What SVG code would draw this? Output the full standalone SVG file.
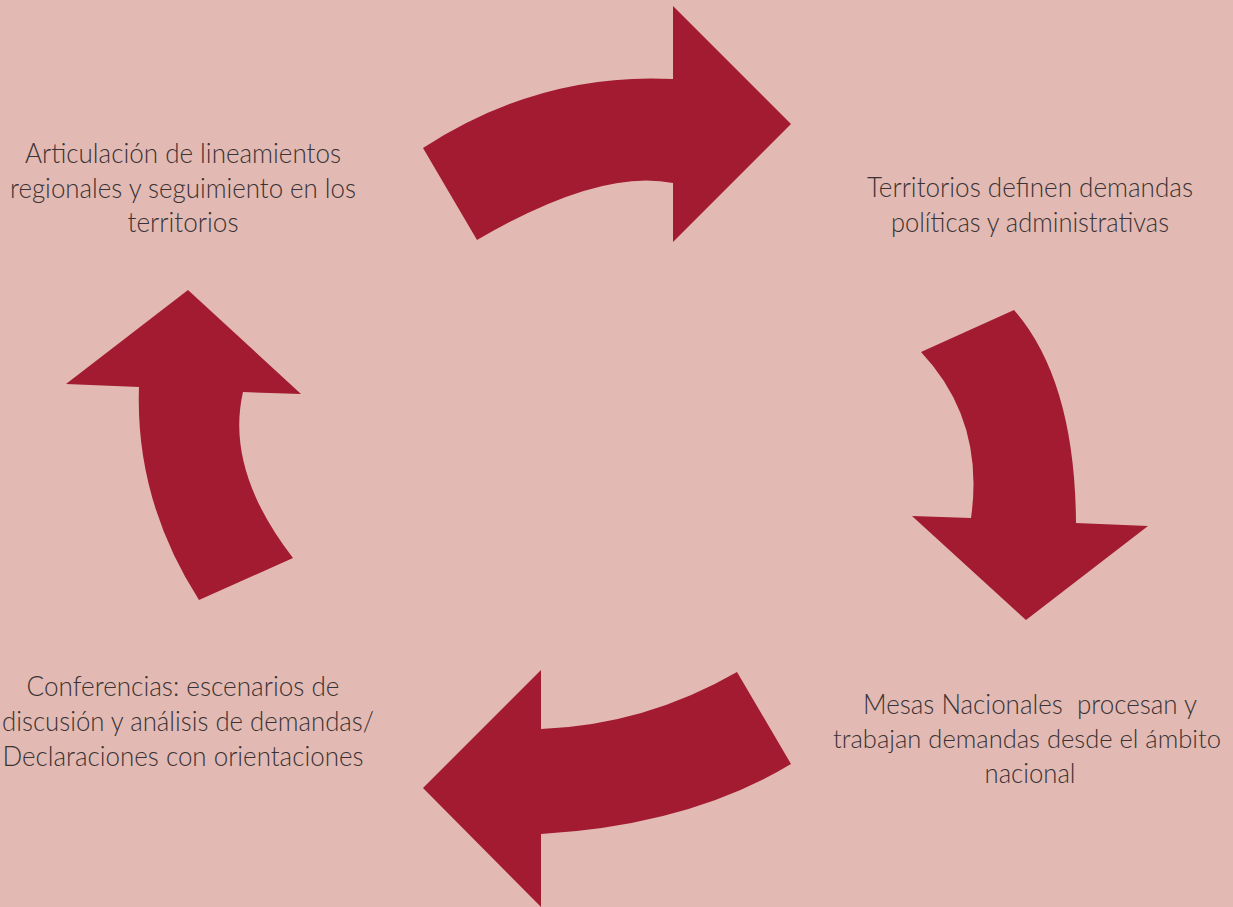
<svg xmlns="http://www.w3.org/2000/svg" width="1233" height="907" viewBox="0 0 1233 907">
<style>
.bg{fill:#e2bab3}
.arrow{fill:#a31b31}
.lbl{font-family:Lato,"Noto Sans","Liberation Sans",sans-serif;font-weight:300;font-size:27px;fill:#3a3234;text-anchor:middle}
.tight{font-size:25px}
</style>
<rect class="bg" x="0" y="0" width="1233" height="907"/>
<g id="connectors">
<path id="arrow-top" class="arrow" d="M423,148 Q540,72 673,79 L673,6 L791,124 L673,242 L673,183 Q600,168 477,240 Z"/>
<path id="arrow-right" class="arrow" d="M1014,310 Q1075,380 1076,523 L1148,526 L1026,620 L912,516 L971,518 Q985,420 921,352 Z"/>
<path id="arrow-bottom" class="arrow" d="M791,764 Q690,825 541,834 L541,907 L423,788 L541,670 L541,729 Q645,725 737,672 Z"/>
<path id="arrow-left" class="arrow" d="M199,600 Q135,500 139,387 L66,384 L188,290 L301,394 L243,392 Q225,470 293,558 Z"/>
</g>
<g id="node-articulacion">
<text class="lbl" x="183" y="163" textLength="316" lengthAdjust="spacingAndGlyphs">Articulación de lineamientos</text>
<text class="lbl" x="183" y="198" textLength="346" lengthAdjust="spacingAndGlyphs">regionales y seguimiento en los</text>
<text class="lbl" x="183" y="232" textLength="111" lengthAdjust="spacingAndGlyphs">territorios</text>
</g>
<g id="node-territorios">
<text class="lbl" x="1030" y="197" textLength="326" lengthAdjust="spacingAndGlyphs">Territorios definen demandas</text>
<text class="lbl" x="1030" y="232" textLength="278" lengthAdjust="spacingAndGlyphs">políticas y administrativas</text>
</g>
<g id="node-mesas">
<text class="lbl" x="1030" y="714" textLength="334" lengthAdjust="spacingAndGlyphs" xml:space="preserve">Mesas Nacionales  procesan y</text>
<text class="lbl tight" x="1027" y="748" textLength="388" lengthAdjust="spacingAndGlyphs">trabajan demandas desde el ámbito</text>
<text class="lbl" x="1030" y="783" textLength="91" lengthAdjust="spacingAndGlyphs">nacional</text>
</g>
<g id="node-conferencias">
<text class="lbl" x="183" y="696" textLength="313" lengthAdjust="spacingAndGlyphs">Conferencias: escenarios de</text>
<text class="lbl" x="188" y="731" textLength="372" lengthAdjust="spacingAndGlyphs">discusión y análisis de demandas/</text>
<text class="lbl" x="183" y="766" textLength="361" lengthAdjust="spacingAndGlyphs">Declaraciones con orientaciones</text>
</g>
</svg>
